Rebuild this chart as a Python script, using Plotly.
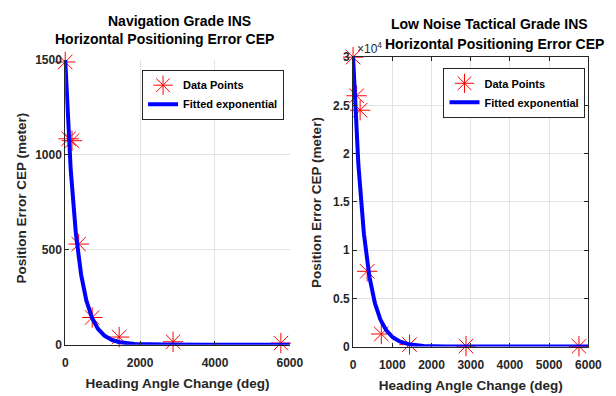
import numpy as np
import plotly.graph_objects as go

# ---- data ----
heading_deg = [0, 90, 180, 360, 720, 1440, 2880, 5760]
nav_cep = [1490, 1085, 1075, 530, 143, 40, 15, 8]
tac_cep = [30000, 26000, 24500, 7800, 1300, 200, 50, 30]

# fitted exponential coefficients (y = a * exp(-b * x))
nav_fit_a, nav_fit_b = 1500.0, 0.0033
tac_fit_a, tac_fit_b = 30000.0, 0.0034

left_xticks = [0, 2000, 4000, 6000]
left_yticks = [0, 500, 1000, 1500]
right_xticks = [0, 1000, 2000, 3000, 4000, 5000, 6000]
right_yticks = [0, 5000, 10000, 15000, 20000, 25000, 30000]
right_yticklabels = ["0", "0.5", "1", "1.5", "2", "2.5", "3"]

FONT = "Liberation Sans, Arial, sans-serif"
W, H = 616, 396
DARK = "#262626"

xfit = np.linspace(0, 6000, 600)

fig = go.Figure()

def add_panel(xa, ya, ydata, a, b, legend):
    fig.add_trace(go.Scatter(
        x=heading_deg, y=ydata, mode="markers", name="Data Points",
        xaxis=xa, yaxis=ya, legend=legend,
        marker=dict(symbol="asterisk-open", size=17, color="#ff0000",
                    line=dict(color="#ff0000", width=1)),
        cliponaxis=False))
    fig.add_trace(go.Scatter(
        x=xfit, y=a * np.exp(-b * xfit), mode="lines", name="Fitted exponential",
        xaxis=xa, yaxis=ya, legend=legend,
        line=dict(color="#0000ff", width=4)))

add_panel("x", "y", nav_cep, nav_fit_a, nav_fit_b, "legend")
add_panel("x2", "y2", tac_cep, tac_fit_a, tac_fit_b, "legend2")

def px_x(p):
    return p / W

def px_y(p):
    return 1 - p / H

axis_common = dict(
    showgrid=True, gridcolor="#e3e3e3", gridwidth=1,
    zeroline=False, showline=True, linecolor=DARK, linewidth=1,
    ticks="inside", ticklen=4, tickcolor=DARK,
    tickfont=dict(family=FONT, size=12, color=DARK, weight="bold"),
)
label_font = dict(family=FONT, size=13.5, color=DARK, weight="bold")

fig.update_layout(
    width=W, height=H,
    margin=dict(l=0, r=0, t=0, b=0),
    paper_bgcolor="white", plot_bgcolor="white",
    font=dict(family=FONT, color=DARK),
    xaxis=dict(domain=[px_x(64), px_x(295)], range=[0, 6000], tickvals=left_xticks,
               anchor="y", mirror=False, ticklabelstandoff=7,
               title=dict(text="Heading Angle Change (deg)", standoff=9, font=label_font),
               **axis_common),
    yaxis=dict(domain=[px_y(350), px_y(55)], range=[0, 1500], tickvals=left_yticks,
               anchor="x", mirror=False, **axis_common),
    xaxis2=dict(domain=[px_x(360), px_x(602)], range=[0, 6000], tickvals=right_xticks,
                anchor="y2", mirror="ticks", ticklabelstandoff=7,
                title=dict(text="Heading Angle Change (deg)", standoff=9, font=label_font),
                **axis_common),
    yaxis2=dict(domain=[px_y(352), px_y(52)], range=[0, 30000], tickvals=right_yticks,
                ticktext=right_yticklabels, anchor="x2", mirror="ticks", **axis_common),
    legend=dict(x=px_x(143), y=px_y(65), xanchor="left", yanchor="top",
                bgcolor="white", bordercolor=DARK, borderwidth=1,
                font=dict(family=FONT, size=11, color="black", weight="bold"),
                tracegroupgap=0, itemwidth=30),
    legend2=dict(x=px_x(453), y=px_y(63), xanchor="left", yanchor="top",
                 bgcolor="white", bordercolor=DARK, borderwidth=1,
                 font=dict(family=FONT, size=11, color="black", weight="bold"),
                 tracegroupgap=0, itemwidth=30),
    showlegend=True,
)

# y-axis titles
for cx, cy in [(18, 198), (323, 203)]:
    fig.add_annotation(text="Position Error CEP (meter)", x=px_x(cx), y=px_y(cy),
                       xref="paper", yref="paper", xanchor="center", yanchor="middle",
                       textangle=-90, showarrow=False, font=label_font)

title_font = dict(family=FONT, size=14, color="black", weight="bold")
anns = [
    ("Navigation Grade INS", 181, 15, "center"),
    ("Horizontal Positioning Error CEP", 166, 33, "center"),
    ("Low Noise Tactical Grade INS", 500, 18, "center"),
    ("Horizontal Positioning Error CEP", 391, 38, "left"),
]
for text, cx, cy, anchor in anns:
    fig.add_annotation(text=text, x=px_x(cx), y=px_y(cy), xref="paper", yref="paper",
                       xanchor=anchor, yanchor="middle", showarrow=False, font=title_font)

fig.add_annotation(text="×10<sup>4</sup>", x=px_x(362), y=px_y(42), xref="paper", yref="paper",
                   xanchor="left", yanchor="middle", showarrow=False,
                   font=dict(family=FONT, size=12, color=DARK))

fig.write_html("out.html")
